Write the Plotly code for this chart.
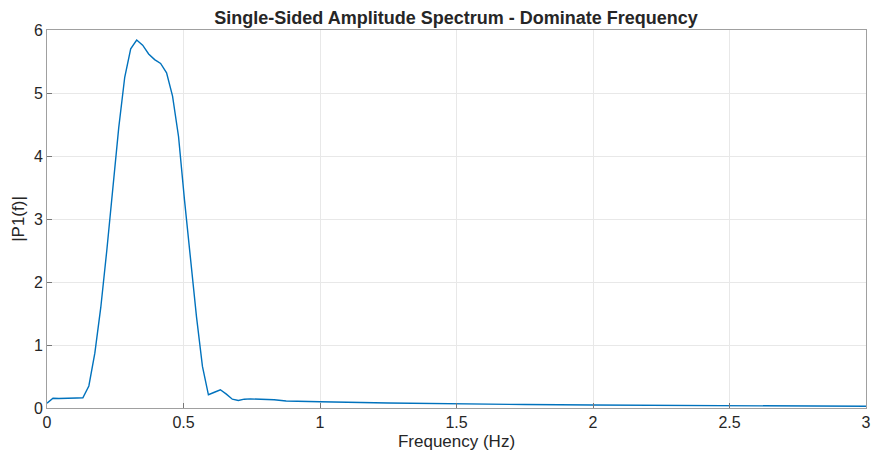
import plotly.graph_objects as go

# Frequency (Hz) and single-sided amplitude values
freq = [0.0, 0.0219, 0.0438, 0.0657, 0.0876, 0.1095, 0.1314, 0.1533, 0.1752, 0.1971,
        0.2190, 0.2409, 0.2628, 0.2847, 0.3066, 0.3285, 0.3504, 0.3723, 0.3942, 0.4161,
        0.4380, 0.4599, 0.4818, 0.5037, 0.5256, 0.5475, 0.5694, 0.5913, 0.6132, 0.6351,
        0.6570, 0.6789, 0.7008, 0.7227, 0.7446, 0.7884, 0.8322, 0.8760, 0.9198, 1.0,
        1.25, 1.5, 1.75, 2.0, 2.25, 2.5, 2.75, 3.0]
amp = [0.075, 0.155, 0.150, 0.150, 0.155, 0.158, 0.162, 0.35, 0.87, 1.60,
       2.50, 3.50, 4.45, 5.25, 5.70, 5.84, 5.76, 5.62, 5.53, 5.47,
       5.32, 4.95, 4.31, 3.30, 2.35, 1.45, 0.66, 0.21, 0.25, 0.29,
       0.22, 0.14, 0.12, 0.14, 0.145, 0.14, 0.13, 0.11, 0.105, 0.10,
       0.08, 0.065, 0.055, 0.047, 0.04, 0.035, 0.03, 0.027]

x_ticks = [0, 0.5, 1, 1.5, 2, 2.5, 3]
x_tick_text = ["0", "0.5", "1", "1.5", "2", "2.5", "3"]
y_ticks = [0, 1, 2, 3, 4, 5, 6]

font_family = "Liberation Sans, Arial, sans-serif"

fig = go.Figure()
fig.add_trace(go.Scatter(x=freq, y=amp, mode="lines",
                         line=dict(color="#0072BD", width=1.4),
                         showlegend=False))

axis_common = dict(
    showgrid=True, gridcolor="#e8e8e8", gridwidth=1,
    showline=True, linecolor="#a0a0a0", linewidth=1, mirror=True,
    ticks="inside", ticklen=5, tickcolor="#777777",
    zeroline=False, automargin=False,
    tickfont=dict(family=font_family, size=16, color="#262626"),
)

fig.update_layout(
    width=871, height=453,
    paper_bgcolor="white", plot_bgcolor="white",
    margin=dict(l=47, r=5, t=30, b=45),
    title=dict(text="<b>Single-Sided Amplitude Spectrum - Dominate Frequency</b>",
               x=0.5236, xanchor="center", y=0.96, yanchor="middle",
               font=dict(family=font_family, size=18, color="#262626")),
    xaxis=dict(range=[0, 3], tickvals=x_ticks, ticktext=x_tick_text,
               title=dict(text="Frequency (Hz)", standoff=4,
                          font=dict(family=font_family, size=17, color="#262626")),
               **axis_common),
    yaxis=dict(range=[0, 6], tickvals=y_ticks,
               title=dict(text="|P1(f)|", standoff=4,
                          font=dict(family=font_family, size=17, color="#262626")),
               **axis_common),
)

fig.write_html("out.html",
               config={"displayModeBar": False},
               post_script="document.body.style.margin='0';document.body.style.overflow='hidden';")
